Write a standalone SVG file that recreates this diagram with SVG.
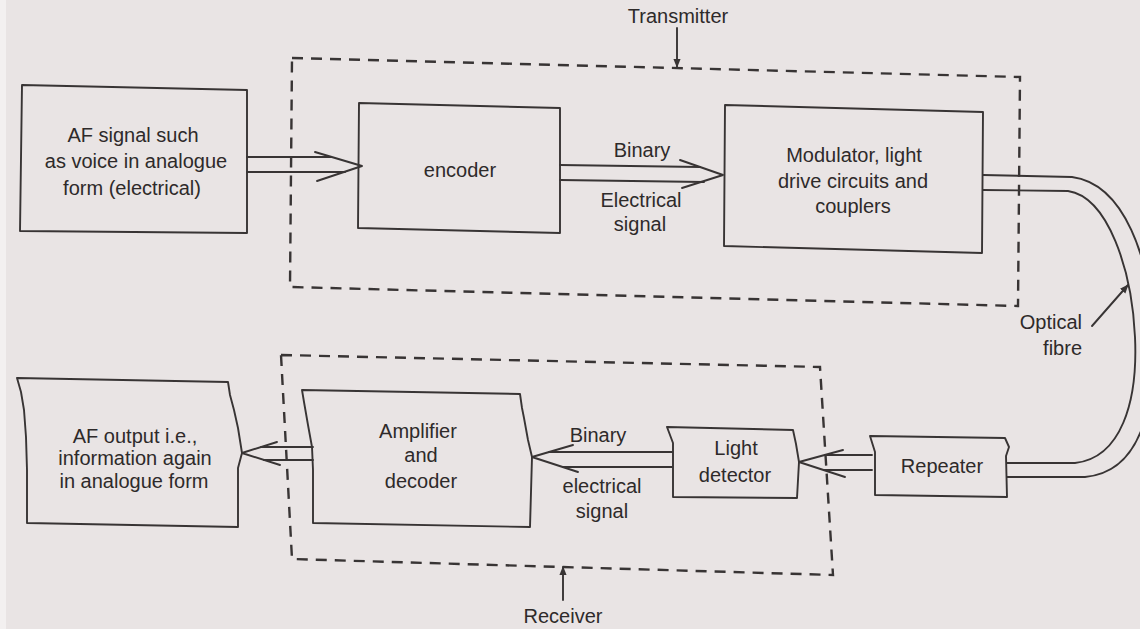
<svg xmlns="http://www.w3.org/2000/svg" width="1140" height="629" viewBox="0 0 1140 629">
  <defs>
    <style>
      .bg { fill: #e9e4e4; }
      .box { fill: none; stroke: #383434; stroke-width: 1.9; stroke-linejoin: round; }
      .dash { fill: none; stroke: #383434; stroke-width: 2.4; stroke-dasharray: 11 8; }
      .ln { fill: none; stroke: #383434; stroke-width: 1.9; stroke-linecap: round; stroke-linejoin: round; }
      .lbl { font-family: "Liberation Sans", Arial, sans-serif; font-size: 20px; fill: #2e2a2a; text-anchor: middle; }
    </style>
    <marker id="tri" viewBox="0 0 10 10" refX="9" refY="5" markerWidth="9" markerHeight="9" markerUnits="userSpaceOnUse" orient="auto">
      <path d="M0,1 L10,5 L0,9 Z" fill="#383434"/>
    </marker>
  </defs>

  <rect class="bg" x="0" y="0" width="1140" height="629"/>
  <rect x="0" y="0" width="6" height="629" fill="#f3f0f0"/>

  <!-- Boundaries -->
  <g id="transmitter-boundary">
    <polygon class="dash" points="292,58 1020,77 1018,306 290,287"/>
    <text class="lbl" x="678" y="23">Transmitter</text>
  </g>
  <g id="receiver-boundary">
    <polygon class="dash" points="281,355 820,367 833,575 292,559"/>
    <text class="lbl" x="563" y="623">Receiver</text>
  </g>

  <!-- Nodes -->
  <g id="af-signal">
    <polygon class="box" points="22,85 247,90 247,233 20,231"/>
    <text class="lbl" x="133" y="142">AF signal such</text>
    <text class="lbl" x="136" y="168">as voice in analogue</text>
    <text class="lbl" x="132" y="195">form (electrical)</text>
  </g>
  <g id="encoder">
    <polygon class="box" points="359,103 560,108 560,233 358,228"/>
    <text class="lbl" x="460" y="177">encoder</text>
  </g>
  <g id="modulator">
    <polygon class="box" points="725,105 983,112 982,253 724,246"/>
    <text class="lbl" x="854" y="162">Modulator, light</text>
    <text class="lbl" x="853" y="188">drive circuits and</text>
    <text class="lbl" x="853" y="213">couplers</text>
  </g>
  <g id="repeater">
    <path class="box" d="M870,436 L1005,438 L1009,447 L1006,456 L1007,497 L875,495 L875,452 Z"/>
    <text class="lbl" x="942" y="473">Repeater</text>
  </g>
  <g id="light-detector">
    <path class="box" d="M667,427 L793,430 L796,444 L799,462 L797,498 L673,497 L673,443 Z"/>
    <text class="lbl" x="736" y="455">Light</text>
    <text class="lbl" x="735" y="482">detector</text>
  </g>
  <g id="amplifier-decoder">
    <path class="box" d="M302,390 L520,394 L522,408 L524,418 L528,440 L532,457 L530,527 L313,523 L313,470 L312,447 L308,425 L304,402 Z"/>
    <text class="lbl" x="418" y="438">Amplifier</text>
    <text class="lbl" x="421" y="462">and</text>
    <text class="lbl" x="421" y="488">decoder</text>
  </g>
  <g id="af-output">
    <path class="box" d="M17,378 L228,382 L230,395 L234,410 L238,428 L242,453 L238,468 L238,527 L27,523 L27,470 L26,437 L24,410 L21,392 Z"/>
    <text class="lbl" x="135" y="443">AF output i.e.,</text>
    <text class="lbl" x="135" y="465">information again</text>
    <text class="lbl" x="134" y="488">in analogue form</text>
  </g>

  <!-- Connectors -->
  <g id="connectors">
    <!-- AF signal -> encoder -->
    <line class="ln" x1="247" y1="157" x2="331" y2="157"/>
    <line class="ln" x1="247" y1="172" x2="345" y2="172"/>
    <polyline class="ln" points="315,152 362,166 317,181"/>
    <!-- encoder -> modulator -->
    <line class="ln" x1="560" y1="165" x2="700" y2="167"/>
    <line class="ln" x1="560" y1="180" x2="704" y2="182"/>
    <polyline class="ln" points="680,160 723,175 682,188"/>
    <text class="lbl" x="642" y="157">Binary</text>
    <text class="lbl" x="641" y="207">Electrical</text>
    <text class="lbl" x="640" y="231">signal</text>
    <!-- optical fibre -->
    <path class="ln" d="M983,175 L1072,177 C1125,184 1150,260 1153,330 C1156,405 1142,472 1085,477 L1007,477"/>
    <path class="ln" d="M983,190 L1068,191 C1108,197 1132,270 1135,337 C1138,402 1121,458 1075,463 L1007,463"/>
    <line class="ln" x1="1092" y1="326" x2="1128" y2="285" marker-end="url(#tri)"/>
    <text class="lbl" x="1082" y="329" style="text-anchor:end">Optical</text>
    <text class="lbl" x="1082" y="355" style="text-anchor:end">fibre</text>
    <!-- repeater -> light detector -->
    <line class="ln" x1="872" y1="455" x2="825" y2="455"/>
    <line class="ln" x1="872" y1="470" x2="824" y2="470"/>
    <polyline class="ln" points="843,450 799,462 845,477"/>
    <!-- light detector -> amplifier -->
    <line class="ln" x1="672" y1="452" x2="549" y2="452"/>
    <line class="ln" x1="672" y1="467" x2="563" y2="467"/>
    <polyline class="ln" points="573,445 532,457 578,472"/>
    <text class="lbl" x="598" y="442">Binary</text>
    <text class="lbl" x="602" y="493">electrical</text>
    <text class="lbl" x="602" y="518">signal</text>
    <!-- amplifier -> AF output -->
    <line class="ln" x1="313" y1="447" x2="261" y2="447"/>
    <line class="ln" x1="313" y1="460" x2="264" y2="460"/>
    <polyline class="ln" points="277,442 242,453 280,465"/>
    <!-- boundary pointers -->
    <line class="ln" x1="677" y1="28" x2="677" y2="67" marker-end="url(#tri)"/>
    <line class="ln" x1="563" y1="600" x2="563" y2="567" marker-end="url(#tri)"/>
  </g>
</svg>
